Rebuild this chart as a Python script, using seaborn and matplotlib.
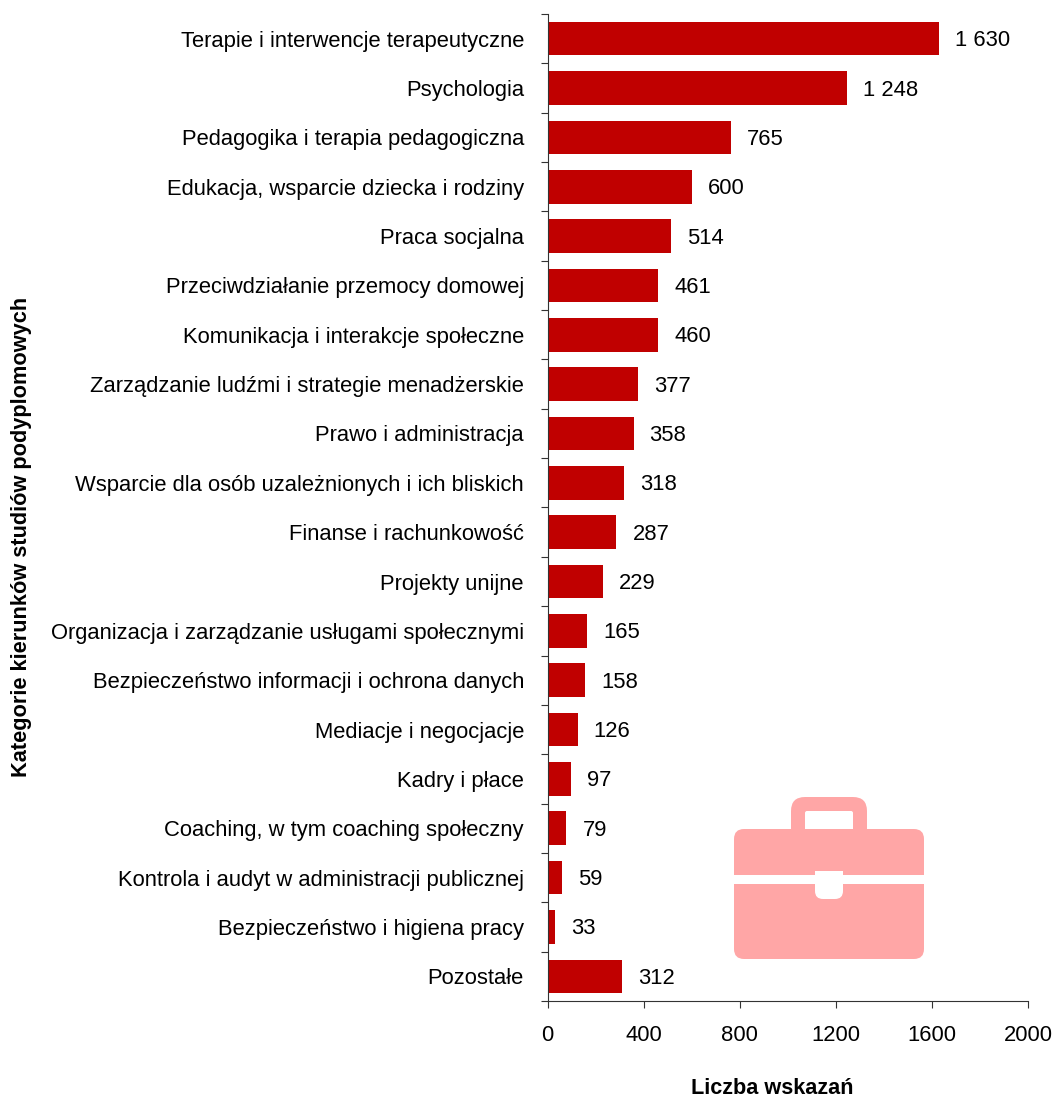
import matplotlib
matplotlib.use("Agg")
import matplotlib.pyplot as plt
from matplotlib.patches import FancyBboxPatch, Rectangle
import pandas as pd
import seaborn as sns

categories = [
    "Terapie i interwencje terapeutyczne",
    "Psychologia",
    "Pedagogika i terapia pedagogiczna",
    "Edukacja, wsparcie dziecka i rodziny",
    "Praca socjalna",
    "Przeciwdziałanie przemocy domowej",
    "Komunikacja i interakcje społeczne",
    "Zarządzanie ludźmi i strategie menadżerskie",
    "Prawo i administracja",
    "Wsparcie dla osób uzależnionych i ich bliskich",
    "Finanse i rachunkowość",
    "Projekty unijne",
    "Organizacja i zarządzanie usługami społecznymi",
    "Bezpieczeństwo informacji i ochrona danych",
    "Mediacje i negocjacje",
    "Kadry i płace",
    "Coaching, w tym coaching społeczny",
    "Kontrola i audyt w administracji publicznej",
    "Bezpieczeństwo i higiena pracy",
    "Pozostałe",
]
values = [1630, 1248, 765, 600, 514, 461, 460, 377, 358, 318, 287, 229, 165, 158, 126, 97, 79, 59, 33, 312]
value_labels = ["1 630", "1 248", "765", "600", "514", "461", "460", "377", "358", "318",
                "287", "229", "165", "158", "126", "97", "79", "59", "33", "312"]
x_ticks = [0, 400, 800, 1200, 1600, 2000]

sns.set_theme(style="white")
plt.rcParams["font.family"] = ["Liberation Sans", "DejaVu Sans"]

df = pd.DataFrame({"category": categories, "value": values})

fig = plt.figure(figsize=(10.57, 10.99), dpi=100)
ax = fig.add_axes([547.5 / 1057, 1 - 1001 / 1099, 480.5 / 1057, 987 / 1099])

sns.barplot(data=df, x="value", y="category", color="#C00000", saturation=1, width=0.68,
            linewidth=0, ax=ax)

ax.set_xlim(0, 2000)
ax.set_ylim(len(categories) - 0.5, -0.5)
ax.set_xticks(x_ticks)
ax.set_yticks([i - 0.5 for i in range(len(categories) + 1)], minor=True)
ax.tick_params(axis="y", which="major", length=0, pad=17, labelsize=15.8, colors="black")
ax.tick_params(axis="y", which="minor", length=5, width=0.8, left=True, color="#333333")
ax.tick_params(axis="x", length=5, width=0.8, bottom=True, direction="out", labelsize=15.8,
               pad=12.5, color="#333333", labelcolor="black")

for side in ["top", "right"]:
    ax.spines[side].set_visible(False)
for side in ["left", "bottom"]:
    ax.spines[side].set_color("#333333")
    ax.spines[side].set_linewidth(0.8)

# value labels next to the bars
for i, (v, lab) in enumerate(zip(values, value_labels)):
    ax.annotate(lab, (v, i), xytext=(16, -2), textcoords="offset pixels",
                va="center", ha="left", fontsize=15.8, color="black")

ax.set_xlabel("")
ax.set_ylabel("")
fig.text(772 / 1057, 1 - 1089 / 1099, "Liczba wskazań", ha="center", va="center", fontsize=15.6,
         fontweight="bold", color="black")
fig.text(22 / 1057, 1 - 537 / 1099, "Kategorie kierunków studiów podyplomowych", ha="center", va="center",
         rotation=90, fontsize=15.7, fontweight="bold", color="black")

# briefcase icon, figure pixels
pink = "#FFA6A6"
fw, fh = 1057, 1099
def rrect(x0, y0, x1, y1, r, color, z=5):
    p = FancyBboxPatch((x0 + r, fh - y1 + r), x1 - x0 - 2 * r, y1 - y0 - 2 * r,
                       boxstyle=f"round,pad={r},rounding_size={r}", fc=color, ec="none",
                       transform=None, zorder=z)
    fig.add_artist(p)

rrect(791, 797, 867, 850, 14, pink)
rrect(805, 811, 853, 850, 2, "white", 6)
rrect(734, 829, 924, 959, 10, pink, 7)
fig.add_artist(Rectangle((734, fh - 884), 190, 9, fc="white", ec="none", transform=None, zorder=8))
fig.add_artist(Rectangle((815, fh - 885), 28, 14, fc="white", ec="none", transform=None, zorder=9))
rrect(815, 875, 843, 899, 8, "white", 9)

fig.savefig("out.png", dpi=100)
